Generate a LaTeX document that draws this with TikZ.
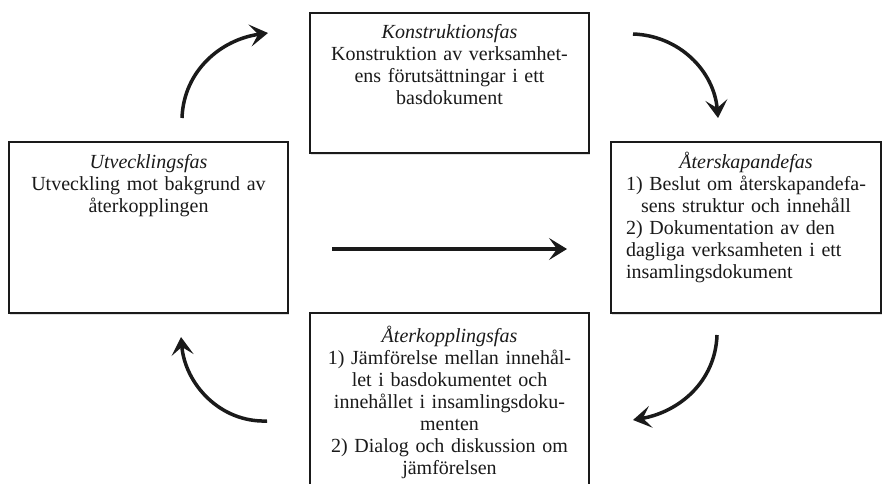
\documentclass[tikz,border=0pt]{standalone}
\usepackage{fontspec}
\setmainfont{Liberation Serif}
\usetikzlibrary{arrows.meta, positioning, shadows}
\definecolor{cink}{HTML}{1A1A1A}
\tikzset{
  every picture/.style={line width=2pt},
  phase/.style={draw=cink, fill=white, line width=2pt, inner sep=0pt,
    drop shadow={opacity=0.25, shadow xshift=1pt, shadow yshift=-2pt}},
  phasetext/.style={font=\fontsize{20}{22}\selectfont, text=cink, align=center, text width=#1,
    anchor=base, inner sep=0pt},
  phasetext/.default=270pt,
  flow/.style={-{Stealth[length=18pt, width=22pt, inset=8pt]}, draw=cink, line width=3.5pt},
}

\begin{document}
\begin{tikzpicture}[x=1pt, y=1pt]
  \useasboundingbox (0,0) rectangle (882,483);
  % the four phases
  \node[phase, minimum width=279pt, minimum height=171pt] (utv) at (148.5,255.5) {};
  \node[phase, minimum width=279pt, minimum height=140pt] (konstr) at (449.5,400) {};
  \node[phase, minimum width=270pt, minimum height=171pt] (aterskap) at (746,255.5) {};
  \node[phase, minimum width=279pt, minimum height=175pt] (aterkoppl) at (449.5,82.5) {};
  % texts
  \node[phasetext] (utvtext) at ([yshift=-27pt]utv.north)
    {\textit{Utvecklingsfas}\\Utveckling mot bakgrund av\\återkopplingen};
  \node[phasetext] (konstrtext) at ([yshift=-27pt]konstr.north)
    {\textit{Konstruktionsfas}\\Konstruktion av verksamhet-\\ens förutsättningar i ett\\basdokument};
  \node[phasetext=240pt, align=left] (aterskaptext) at ([yshift=-27pt]aterskap.north)
    {\centering\textit{Återskapandefas}\\1) Beslut om återskapandefa-\\sens struktur och innehåll\par
     \raggedright 2) Dokumentation av den\\dagliga verksamheten i ett\\insamlingsdokument\par};
  \node[phasetext] (aterkoppltext) at ([yshift=-30pt]aterkoppl.north)
    {\textit{Återkopplingsfas}\\1) Jämförelse mellan innehål-\\let i basdokumentet och\\innehållet i insamlingsdoku-\\menten\\2) Dialog och diskussion om\\jämförelsen};
  % arrow ends
  \coordinate (tl-s) at (182,365);
  \coordinate (tl-e) at (268,450);
  \coordinate (tr-s) at (633,449);
  \coordinate (tr-e) at (718,365);
  \coordinate (br-s) at (717,148);
  \coordinate (br-e) at (633,63);
  \coordinate (bl-s) at (267,62);
  \coordinate (bl-e) at (181,146);
  \coordinate (mid-s) at (332,234);
  \coordinate (mid-e) at (567,234);
  % arrows
  \draw[flow] (tl-s) to[out=88, in=188] (tl-e);
  \draw[flow] (tr-s) to[out=-2, in=95] (tr-e);
  \draw[flow] (br-s) to[out=-92, in=10] (br-e);
  \draw[flow] (bl-s) to[out=182, in=-85] (bl-e);
  \draw[flow] (mid-s) -- (mid-e);
\end{tikzpicture}
\end{document}
